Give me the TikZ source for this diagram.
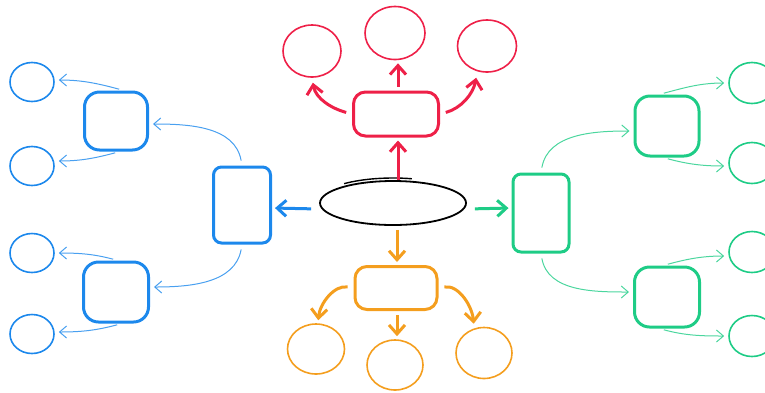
\documentclass[tikz,border=0pt]{standalone}
\usetikzlibrary{shapes.geometric,arrows.meta}
\definecolor{mapblue}{RGB}{28,136,236}
\definecolor{mapred}{RGB}{238,32,72}
\definecolor{mapgreen}{RGB}{30,204,134}
\definecolor{maporange}{RGB}{244,158,30}

\begin{document}
\begin{tikzpicture}[x=1pt,y=1pt,
  box/.style={draw,rectangle,rounded corners=12pt,line width=3pt,inner sep=0pt},
  bubble/.style={draw,ellipse,line width=1.6pt,inner sep=0pt},
  mainarrow/.style={line width=3pt,-{Straight Barb[length=9pt,width=16pt]},shorten <=4pt,shorten >=3pt},
  subarrow/.style={line width=1pt,draw opacity=0.8,-{Straight Barb[length=7pt,width=12pt]},shorten <=5pt,shorten >=4pt}]
\useasboundingbox (0,0) rectangle (765,-392);

%central topic
\node[bubble,line width=1.8pt,minimum width=146pt,minimum height=44pt] (topic) at (393,-203) {};
\draw[line width=1.4pt] ([yshift=3pt]topic.center) ++(132:73 and 22) arc[start angle=132,end angle=75,x radius=73,y radius=22];

%red branch (up)
\node[box,mapred,minimum width=85pt,minimum height=44pt] (redbox) at (396,-114) {};
\node[bubble,mapred,minimum width=58pt,minimum height=52pt] (red1) at (312,-51) {};
\node[bubble,mapred,minimum width=60pt,minimum height=53pt] (red2) at (395,-33) {};
\node[bubble,mapred,minimum width=59pt,minimum height=52pt] (red3) at (487,-46) {};
\draw[mainarrow,mapred,shorten <=0pt] ([xshift=5pt]topic.north) -- ([xshift=2pt]redbox.south);
\draw[mainarrow,mapred,shorten <=6pt,shorten >=5pt] (redbox.west) to[out=165,in=-80] (red1.south);
\draw[mainarrow,mapred] ([xshift=2pt]redbox.north) -- ([xshift=3pt]red2.south);
\draw[mainarrow,mapred,shorten <=6pt,shorten >=5pt] (redbox.east) to[out=15,in=-100] ([xshift=-10pt]red3.south);

%blue branch (left)
\node[box,mapblue,rounded corners=8pt,minimum width=57pt,minimum height=76pt] (bluebox) at (242,-205) {};
\node[box,mapblue,rounded corners=15pt,minimum width=63pt,minimum height=58pt] (blueup) at (116,-121) {};
\node[box,mapblue,rounded corners=15pt,minimum width=65pt,minimum height=60pt] (bluelow) at (116,-292) {};
\foreach \n/\y in {1/82,2/166,3/253,4/334}
  \node[bubble,mapblue,minimum width=44pt,minimum height=39pt] (blue\n) at (32,-\y) {};
\draw[mainarrow,mapblue,shorten <=8pt] ([yshift=-6pt]topic.west) -- ([yshift=-3pt]bluebox.east);
\draw[subarrow,mapblue] (bluebox.north) to[out=100,in=0] ([yshift=-3pt]blueup.east);
\draw[subarrow,mapblue] (bluebox.south) to[out=-100,in=0] ([yshift=5pt]bluelow.east);
\draw[subarrow,mapblue] ([xshift=8pt]blueup.north) to[out=165,in=0] ([yshift=2pt]blue1.east);
\draw[subarrow,mapblue] ([xshift=4pt]blueup.south) to[out=-165,in=0] ([yshift=5pt]blue2.east);
\draw[subarrow,mapblue] ([xshift=2pt]bluelow.north) to[out=165,in=0] (blue3.east);
\draw[subarrow,mapblue] ([xshift=6pt]bluelow.south) to[out=-165,in=0] ([yshift=2pt]blue4.east);

%green branch (right)
\node[box,mapgreen,rounded corners=8pt,minimum width=56pt,minimum height=78pt] (greenbox) at (541,-213) {};
\node[box,mapgreen,rounded corners=15pt,minimum width=64pt,minimum height=60pt] (greenup) at (667,-126) {};
\node[box,mapgreen,rounded corners=15pt,minimum width=65pt,minimum height=60pt] (greenlow) at (667,-297) {};
\foreach \n/\y in {1/83,2/163,3/252,4/336}
  \node[bubble,mapgreen,minimum width=46pt,minimum height=41pt] (green\n) at (752,-\y) {};
\draw[mainarrow,mapgreen,shorten <=8pt] ([yshift=-6pt]topic.east) -- ([yshift=5pt]greenbox.west);
\draw[subarrow,mapgreen] (greenbox.north) to[out=80,in=180] ([yshift=-5pt]greenup.west);
\draw[subarrow,mapgreen] (greenbox.south) to[out=-80,in=180] ([yshift=5pt]greenlow.west);
\draw[subarrow,mapgreen] ([xshift=-8pt]greenup.north) to[out=15,in=180] (green1.west);
\draw[subarrow,mapgreen] ([xshift=-4pt]greenup.south) to[out=-15,in=180] ([yshift=-3pt]green2.west);
\draw[subarrow,mapgreen] ([xshift=-4pt]greenlow.north) to[out=15,in=180] ([yshift=-4pt]green3.west);
\draw[subarrow,mapgreen] ([xshift=-8pt]greenlow.south) to[out=-15,in=180] (green4.west);

%orange branch (down)
\node[box,maporange,minimum width=82pt,minimum height=43pt] (orangebox) at (396,-288) {};
\node[bubble,maporange,minimum width=57pt,minimum height=50pt] (orange1) at (316,-349) {};
\node[bubble,maporange,minimum width=56pt,minimum height=50pt] (orange2) at (395,-365) {};
\node[bubble,maporange,minimum width=56pt,minimum height=51pt] (orange3) at (484,-353) {};
\draw[mainarrow,maporange] ([xshift=4pt]topic.south) -- ([xshift=1pt]orangebox.north);
\draw[mainarrow,maporange,shorten <=6pt] (orangebox.west) to[out=170,in=85] ([xshift=2pt]orange1.north);
\draw[mainarrow,maporange] ([xshift=1pt]orangebox.south) -- ([xshift=2pt]orange2.north);
\draw[mainarrow,maporange,shorten <=6pt] (orangebox.east) to[out=10,in=95] ([xshift=-10pt]orange3.north);
\end{tikzpicture}
\end{document}
